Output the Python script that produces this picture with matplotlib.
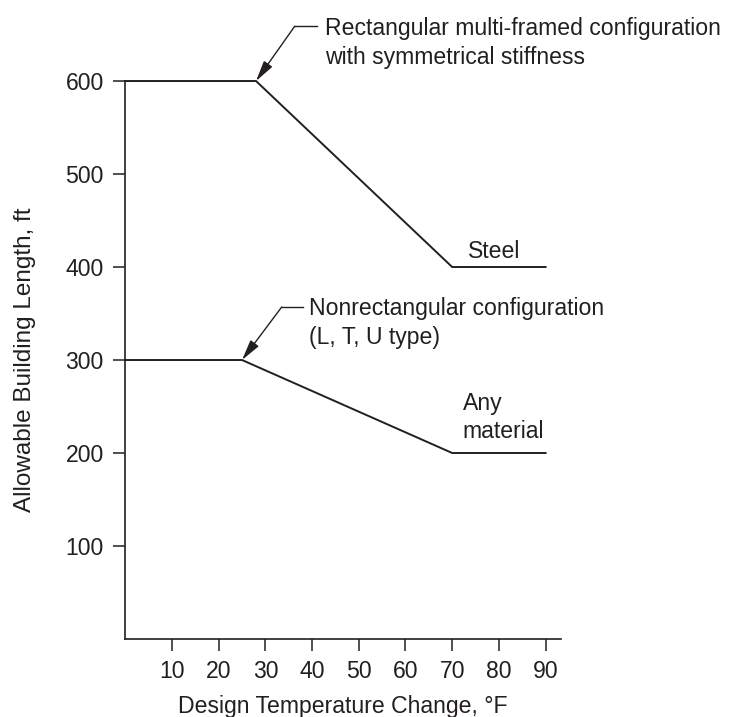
import matplotlib
matplotlib.use("Agg")
import matplotlib.pyplot as plt

plt.rcParams['font.family'] = ['Liberation Sans', 'DejaVu Sans']

# Data
steel_x = [0, 28, 70, 90]
steel_y = [600, 600, 400, 400]
any_x = [0, 25, 70, 90]
any_y = [300, 300, 200, 200]
x_ticks = [10, 20, 30, 40, 50, 60, 70, 80, 90]
y_ticks = [100, 200, 300, 400, 500, 600]

ink = '#231f20'
fs = 16.6

fig = plt.figure(figsize=(7.30, 7.17), dpi=100)
ax = fig.add_axes([0.1716, 0.1088, 0.7969 - 0.1716 - 0.0284, 0.887 - 0.1088])
ax.set_xlim(0, 93.3)
ax.set_ylim(0, 600)

ax.plot(steel_x, steel_y, color=ink, lw=1.4, clip_on=False, solid_joinstyle='miter')
ax.plot(any_x, any_y, color=ink, lw=1.4, clip_on=False, solid_joinstyle='miter')

for s in ['top', 'right']:
    ax.spines[s].set_visible(False)
for s in ['left', 'bottom']:
    ax.spines[s].set_color(ink)
    ax.spines[s].set_linewidth(1.2)

ax.set_xticks(x_ticks)
ax.set_yticks(y_ticks)
ax.tick_params(direction='out', length=8.5, width=1.1, color=ink,
               labelsize=fs, labelcolor=ink)
ax.tick_params(axis='x', pad=6.5)
ax.tick_params(axis='y', pad=7)

ax.set_xlabel('Design Temperature Change, °F', fontsize=fs, color=ink, labelpad=8.5)
ax.set_ylabel('Allowable Building Length, ft', fontsize=17.5, color=ink)
ax.yaxis.set_label_coords(-0.205, 0.5)

arrow = dict(arrowstyle='-|>,head_length=0.9,head_width=0.22', color=ink, lw=1.0,
             shrinkA=0, shrinkB=0, mutation_scale=14)

# Top annotation
ax.annotate('', xy=(steel_x[1], steel_y[1]), xytext=(36.3, 659),
            arrowprops=arrow, annotation_clip=False)
ax.plot([36.3, 41.0], [659, 659], color=ink, lw=1.0, clip_on=False)
ax.text(42.7, 669, 'Rectangular multi-framed configuration\nwith symmetrical stiffness',
        fontsize=fs, color=ink, ha='left', va='top', linespacing=1.32)

# Lower annotation
ax.annotate('', xy=(any_x[1], any_y[1]), xytext=(33.5, 357),
            arrowprops=arrow, annotation_clip=False)
ax.plot([33.5, 38.0], [357, 357], color=ink, lw=1.0, clip_on=False)
ax.text(39.3, 368, 'Nonrectangular configuration\n(L, T, U type)',
        fontsize=fs, color=ink, ha='left', va='top', linespacing=1.32)

ax.text(73.3, 417, 'Steel', fontsize=fs, color=ink, ha='left', va='center')
ax.text(72.3, 238, 'Any\nmaterial', fontsize=fs, color=ink, ha='left', va='center',
        linespacing=1.25)

fig.savefig('out.png', dpi=100)
